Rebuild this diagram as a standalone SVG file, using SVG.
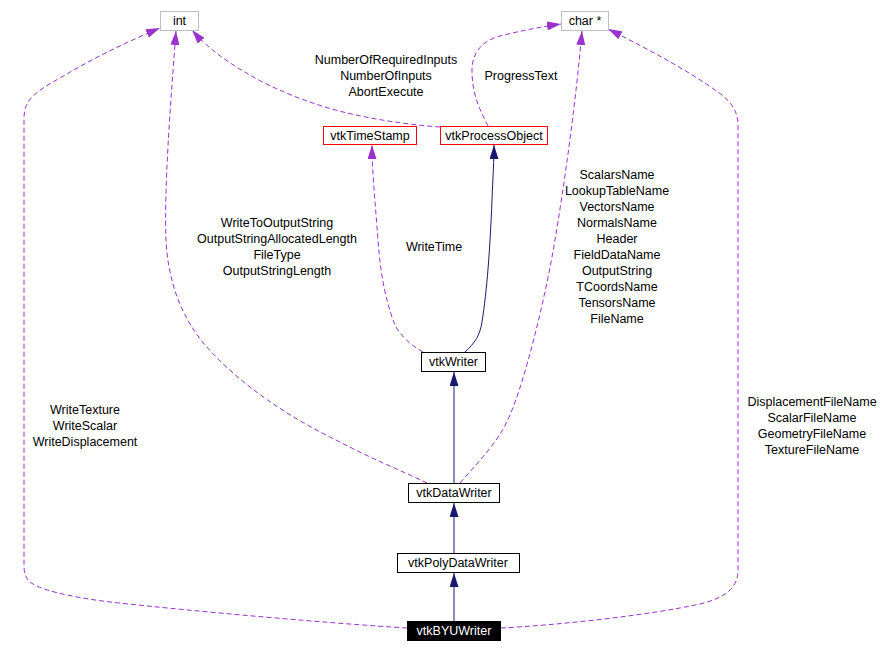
<svg xmlns="http://www.w3.org/2000/svg" width="880" height="653" viewBox="0 0 880 653">
<style>
text{font-family:"Liberation Sans",Arial,sans-serif;font-size:12.5px;fill:#000;text-anchor:middle}
.n rect{fill:#fff;stroke:#000;stroke-width:1}
.n.gray rect{stroke:#bfbfbf}
.n.red rect{stroke:#ff0000}
.n.dark rect{fill:#000}
.n.dark text{fill:#fff}
.use{fill:none;stroke:#9a32cd;stroke-width:1;stroke-dasharray:5,3;marker-end:url(#ap)}
.inh{fill:none;stroke:#191970;stroke-width:1;marker-end:url(#an)}
</style>
<defs>
<marker id="ap" markerUnits="userSpaceOnUse" markerWidth="14" markerHeight="9" viewBox="0 0 14 9" refX="14" refY="4.5" orient="auto"><path d="M0,0 L14,4.5 L0,9 z" fill="#9a32cd"/></marker>
<marker id="an" markerUnits="userSpaceOnUse" markerWidth="14" markerHeight="9" viewBox="0 0 14 9" refX="14" refY="4.5" orient="auto"><path d="M0,0 L14,4.5 L0,9 z" fill="#191970"/></marker>
</defs>
<rect width="880" height="653" fill="#fff"/>
<g id="connectors">
<path class="use" d="M407,628 C340,624 200,612 110,602 C70,597 40,590 30,582 C25,577 24,572 24,565 L24,118 C24,100 35,92 60,78 C90,60 120,45 160,28"/>
<path class="use" d="M501,628 C560,625 650,615 700,604 C725,598 738,588 738,570 L738,125 C738,110 730,100 715,90 C690,72 650,50 608,29"/>
<path class="use" d="M427,483 C400,470 370,458 340,442 C290,418 240,385 205,345 C180,315 168,280 166,240 C164,190 170,110 176,31"/>
<path class="use" d="M440,127 C410,125 360,118 325,107 C280,93 245,75 215,52 C205,44 198,37 192,30"/>
<path class="use" d="M488,126 C480,110 472,95 472,70 C472,50 485,40 500,36 C520,31 540,27 561,24"/>
<path class="use" d="M460,483 C480,460 500,440 510,415 C525,380 545,300 555,240 C565,180 576,100 582,31"/>
<path class="use" d="M423,352 C410,345 400,335 395,325 C385,300 380,270 378,240 C375,200 372,170 372,145"/>
<path class="inh" d="M465,352 C475,343 480,335 482,322 C487,290 490,250 492,200 C493,175 494,160 494,145"/>
<path class="inh" d="M454,483 L454,372"/>
<path class="inh" d="M454,553 L454,503"/>
<path class="inh" d="M454,621 L454,573"/>
<g id="edge-labels">
<text x="85" y="414">WriteTexture</text>
<text x="85" y="430">WriteScalar</text>
<text x="85" y="446">WriteDisplacement</text>
<text x="812" y="406">DisplacementFileName</text>
<text x="812" y="422">ScalarFileName</text>
<text x="812" y="438">GeometryFileName</text>
<text x="812" y="454">TextureFileName</text>
<text x="277" y="227">WriteToOutputString</text>
<text x="277" y="243">OutputStringAllocatedLength</text>
<text x="277" y="259">FileType</text>
<text x="277" y="275">OutputStringLength</text>
<text x="434" y="251">WriteTime</text>
<text x="386" y="64">NumberOfRequiredInputs</text>
<text x="386" y="80">NumberOfInputs</text>
<text x="386" y="96">AbortExecute</text>
<text x="521" y="80">ProgressText</text>
<text x="617" y="179">ScalarsName</text>
<text x="617" y="195">LookupTableName</text>
<text x="617" y="211">VectorsName</text>
<text x="617" y="227">NormalsName</text>
<text x="617" y="243">Header</text>
<text x="617" y="259">FieldDataName</text>
<text x="617" y="275">OutputString</text>
<text x="617" y="291">TCoordsName</text>
<text x="617" y="307">TensorsName</text>
<text x="617" y="323">FileName</text>
</g>
</g>
<g id="node-int" class="n gray"><rect x="160.5" y="11.5" width="38" height="19"/><text x="179.5" y="25">int</text></g>
<g id="node-char" class="n gray"><rect x="561.5" y="11.5" width="47" height="19"/><text x="585" y="25">char *</text></g>
<g id="node-vtkTimeStamp" class="n red"><rect x="323.5" y="126.5" width="93" height="18"/><text x="370" y="140">vtkTimeStamp</text></g>
<g id="node-vtkProcessObject" class="n red"><rect x="440.5" y="126.5" width="107" height="18"/><text x="494" y="140">vtkProcessObject</text></g>
<g id="node-vtkWriter" class="n"><rect x="421.5" y="352.5" width="64" height="19"/><text x="453.5" y="366">vtkWriter</text></g>
<g id="node-vtkDataWriter" class="n"><rect x="408.5" y="483.5" width="91" height="19"/><text x="454" y="497">vtkDataWriter</text></g>
<g id="node-vtkPolyDataWriter" class="n"><rect x="397.5" y="553.5" width="122" height="19"/><text x="458" y="567">vtkPolyDataWriter</text></g>
<g id="node-vtkBYUWriter" class="n dark"><rect x="407.5" y="621.5" width="93" height="19"/><text x="454" y="635">vtkBYUWriter</text></g>
</svg>
